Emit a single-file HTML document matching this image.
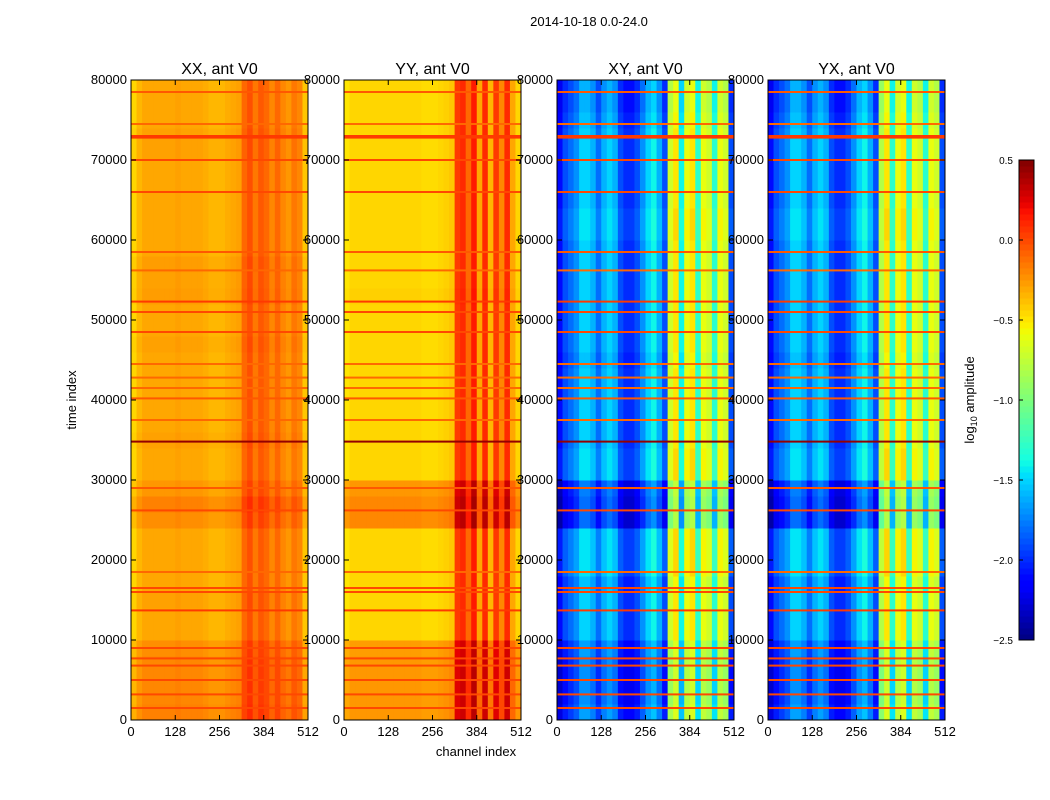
<!DOCTYPE html>
<html><head><meta charset="utf-8"><style>
body{margin:0;background:#fff;}
svg{display:block;font-family:"Liberation Sans",sans-serif;}
</style></head><body>
<svg id="fig" width="1050" height="800" viewBox="0 0 1050 800">
<rect width="1050" height="800" fill="#fff"/>
<text x="589" y="26" font-size="13" text-anchor="middle">2014-10-18 0.0-24.0</text>
<text x="476" y="756" font-size="13" text-anchor="middle">channel index</text>
<text transform="translate(76,400) rotate(-90)" font-size="13" text-anchor="middle">time index</text>
<text transform="translate(974,400) rotate(-90)" font-size="13" text-anchor="middle">log<tspan font-size="9" dy="3">10</tspan><tspan dy="-3"> amplitude</tspan></text>
</svg>
<script>
// ---- data ----
const panelTitles = ["XX, ant V0","YY, ant V0","XY, ant V0","YX, ant V0"];
const channelBins = [0,16,32,48,64,80,96,112,128,144,160,176,192,208,224,240,256,272,288,304,320,336,352,368,384,400,416,432,448,464,480,496];
const colXX = [-0.45,-0.35,-0.3,-0.3,-0.3,-0.3,-0.3,-0.3,-0.28,-0.3,-0.3,-0.3,-0.3,-0.32,-0.35,-0.35,-0.35,-0.32,-0.3,-0.28,-0.1,-0.02,-0.15,-0.05,-0.1,-0.2,-0.1,-0.2,-0.25,-0.15,-0.2,-0.4];
const colYY = [-0.5,-0.45,-0.45,-0.45,-0.45,-0.45,-0.45,-0.45,-0.45,-0.45,-0.45,-0.45,-0.45,-0.45,-0.47,-0.47,-0.47,-0.45,-0.43,-0.4,0.05,0.1,-0.1,0.15,-0.3,0.1,-0.35,0.05,-0.2,0.1,-0.3,-0.45];
const colXY = [-2.1,-1.9,-1.8,-1.7,-1.5,-1.5,-1.6,-1.8,-1.6,-1.5,-1.6,-1.9,-2.0,-2.0,-1.9,-1.7,-1.5,-1.4,-1.6,-1.9,-0.7,-0.5,-1.4,-0.6,-0.5,-1.3,-0.6,-0.7,-1.3,-0.6,-0.7,-1.9];
const colYX = [-2.1,-1.9,-1.8,-1.7,-1.5,-1.5,-1.6,-1.8,-1.6,-1.5,-1.6,-1.9,-2.0,-2.0,-1.9,-1.7,-1.5,-1.4,-1.6,-1.9,-0.8,-0.5,-1.3,-0.6,-0.5,-1.3,-0.6,-0.7,-1.3,-0.6,-0.7,-1.9];
const timeBins = [0,2000,4000,6000,8000,10000,12000,14000,16000,18000,20000,22000,24000,26000,28000,30000,32000,34000,36000,38000,40000,42000,44000,46000,48000,50000,52000,54000,56000,58000,60000,62000,64000,66000,68000,70000,72000,74000,76000,78000];
const rowXX = [0.12,0.1,0.1,0.1,0.08,0,0,0.02,0,0,0,0,0.08,0.12,0.05,0,0,0.02,0,0,0,0,0,0.02,0,0,0.03,0.02,0.03,0,0,0,0,0,0,0.02,0.02,0,0,0];
const rowYY = [0.2,0.2,0.2,0.2,0.18,0,0,0,0,0,0,0,0.25,0.25,0.2,0,0,0,0,0,0,0,0,0,0,0,0.02,0,0,0,0,0,0,0,0,0,0,0,0,0];
const rowXY = [-0.15,-0.2,-0.2,-0.2,-0.15,0,0,0,-0.05,0.05,0.05,0.05,-0.3,-0.3,-0.25,0.05,0.05,0,0,0,0,0,-0.05,0,0,0,0,0,0,0,0.05,0.05,0,0,0,0,0,-0.05,-0.1,-0.1];
const rowYX = [-0.15,-0.2,-0.2,-0.2,-0.15,0,0,0,-0.05,0.05,0.05,0.05,-0.3,-0.3,-0.25,0.05,0.05,0,0,0,0,0,-0.05,0,0,0,0,0,0,0,0.05,0.05,0,0,0,0,0,-0.05,-0.1,-0.1];
const flagTimes = [1500,3200,5000,6800,7700,9000,13700,16000,16500,18500,26200,29000,34800,37500,40200,41500,42800,44500,48500,51000,52300,56200,58500,66000,70000,72800,73000,74500,78500];
const flagValues = [0.0,0.0,0.0,0.0,0.0,0.0,0.05,0.0,0.0,-0.1,0.0,-0.05,0.45,-0.1,-0.05,-0.1,-0.1,-0.1,0.0,0.0,0.05,-0.1,-0.05,0.0,0.0,0.05,0.05,-0.1,-0.05];
const xTicks = [0,128,256,384,512];
const yTicks = [0,10000,20000,30000,40000,50000,60000,70000,80000];
const cbTicks = [0.5,0.0,-0.5,-1.0,-1.5,-2.0,-2.5];
const cols = [colXX,colYY,colXY,colYX];
const rows = [rowXX,rowYY,rowXY,rowYX];

// ---- layout ----
const panelX = [131,344,557,768], PW=177, PT=80, PB=720;
const VMIN=-2.5, VMAX=0.5;
const NS="http://www.w3.org/2000/svg";
const svg=document.getElementById('fig');
function mk(t,a,p){const e=document.createElementNS(NS,t);for(const k in a)e.setAttribute(k,a[k]);(p||svg).appendChild(e);return e;}
const JR=[[0,0],[0.35,0],[0.66,1],[0.89,1],[1,0.5]];
const JG=[[0,0],[0.125,0],[0.375,1],[0.64,1],[0.91,0],[1,0]];
const JB=[[0,0.5],[0.11,1],[0.34,1],[0.65,0],[1,0]];
function seg(s,t){for(let i=1;i<s.length;i++){if(t<=s[i][0]){const a=s[i-1],b=s[i];return a[1]+(b[1]-a[1])*(t-a[0])/(b[0]-a[0]);}}return s[s.length-1][1];}
function jet(v){let t=(v-VMIN)/(VMAX-VMIN);t=Math.max(0,Math.min(1,t));
 return `rgb(${Math.round(255*seg(JR,t))},${Math.round(255*seg(JG,t))},${Math.round(255*seg(JB,t))})`;}
function xs(p,c){return panelX[p]+c/512*PW;}
function ys(t){return PB-t/80000*(PB-PT);}

for(let p=0;p<4;p++){
 const g=mk('g',{});
 
 
 for(let r=0;r<timeBins.length;r++){
  const t0=timeBins[r], t1=(r+1<timeBins.length?timeBins[r+1]:80000);
  for(let c=0;c<channelBins.length;c++){
   const c0=channelBins[c], c1=(c+1<channelBins.length?channelBins[c+1]:512);
   const v=cols[p][c]+rows[p][r];
   const x0=xs(p,c0), y0=ys(t1);
   const e=mk('rect',{x:x0,y:y0,width:xs(p,c1)-x0+0.5,height:ys(t0)-y0+0.5,fill:jet(v)},g);
   
   
  }
 }
 for(let i=0;i<flagTimes.length;i++){
  const e=mk('rect',{x:xs(p,0),y:ys(flagTimes[i])-1,width:PW,height:2,fill:jet(flagValues[i])},g);
  
  
 }
 const fr=mk('rect',{x:panelX[p],y:PT,width:PW,height:PB-PT,fill:'none',stroke:'#000','stroke-width':1});
 
 
 const tt=mk('text',{x:panelX[p]+PW/2,y:PT-6,'font-size':16,'text-anchor':'middle'});
 tt.textContent=panelTitles[p];
 
 
 for(const v of xTicks){
  const x=xs(p,v);
  mk('line',{x1:x,x2:x,y1:PB,y2:PB-5,stroke:'#000'});
  mk('line',{x1:x,x2:x,y1:PT,y2:PT+5,stroke:'#000'});
  const l=mk('text',{x:x,y:PB+16,'font-size':13,'text-anchor':'middle'});
  l.textContent=v;
  
  
 }
 for(const v of yTicks){
  const y=ys(v);
  mk('line',{x1:panelX[p],x2:panelX[p]+5,y1:y,y2:y,stroke:'#000'});
  mk('line',{x1:panelX[p]+PW,x2:panelX[p]+PW-5,y1:y,y2:y,stroke:'#000'});
  const l=mk('text',{x:panelX[p]-4,y:y+4,'font-size':13,'text-anchor':'end'});
  l.textContent=v;
  
  
 }
}
// colorbar
const CBX=1019,CBW=15,CBT=160,CBB=640;
const cbg=mk('g',{});


const N=80;
for(let i=0;i<N;i++){
 const v=VMIN+(i+0.5)/N*(VMAX-VMIN);
 const y=CBB-(i+1)/N*(CBB-CBT);
 mk('rect',{x:CBX,y:y,width:CBW,height:(CBB-CBT)/N+0.5,fill:jet(v)},cbg);
}
mk('rect',{x:CBX,y:CBT,width:CBW,height:CBB-CBT,fill:'none',stroke:'#000'},cbg);
for(const v of cbTicks){
 const y=CBB-(v-VMIN)/(VMAX-VMIN)*(CBB-CBT);
 mk('line',{x1:CBX,x2:CBX+4,y1:y,y2:y,stroke:'#000'},cbg);
 const l=mk('text',{x:CBX-6,y:y+4,'font-size':10,'text-anchor':'end'},cbg);
 l.textContent=(v<0?'\u2212':'')+Math.abs(v).toFixed(1);
 
 
}
</script>
</body></html>
